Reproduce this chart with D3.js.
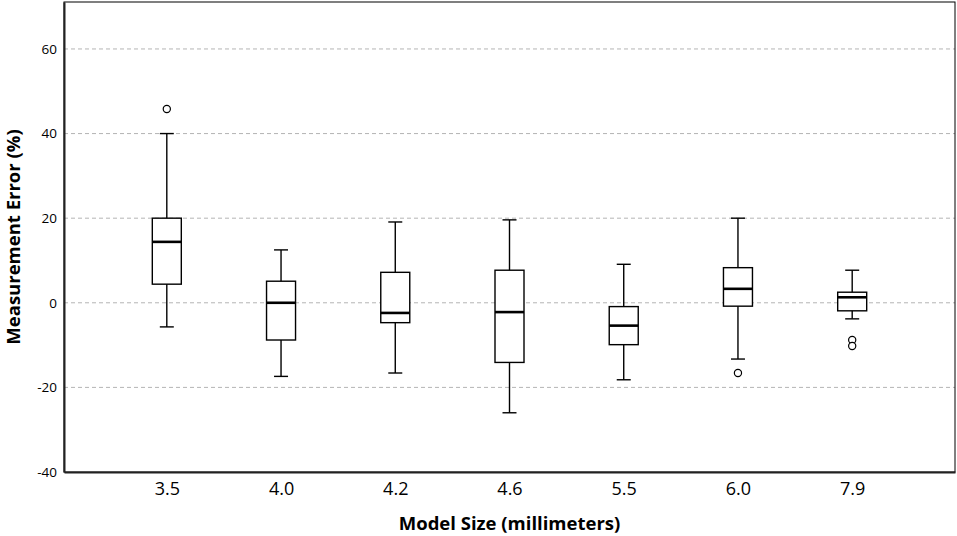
<!DOCTYPE html>
<html>
<head>
<meta charset="utf-8">
<script src="https://cdn.jsdelivr.net/npm/d3@7"></script>
<style>
    body { margin: 0; background: #fff; }
    svg { display: block; font-family: "Open Sans", "DejaVu Sans", sans-serif; }
</style>
</head>
<body>
<svg id="chart" width="957" height="536"></svg>
<script>
// model sizes (mm)
const categories = ['3.5', '4.0', '4.2', '4.6', '5.5', '6.0', '7.9'];

// box statistics (%)
const whiskerLow = [-5.7, -17.4, -16.6, -26.0, -18.2, -13.3, -3.8];
const q1 = [4.4, -8.8, -4.7, -14.1, -9.9, -0.8, -1.9];
const median = [14.4, 0.0, -2.4, -2.2, -5.4, 3.3, 1.3];
const q3 = [20.0, 5.1, 7.2, 7.7, -0.9, 8.3, 2.5];
const whiskerHigh = [40.0, 12.5, 19.1, 19.6, 9.1, 20.0, 7.7];
const outliers = [[45.8], [], [], [], [], [-16.6], [-8.8, -10.2]];

const yTicks = [-40, -20, 0, 20, 40, 60];
const gridTicks = [-20, 0, 20, 40, 60];

const margin = {top: 2, right: 2, bottom: 64, left: 64};
const width = 957, height = 536;

const svg = d3.select('#chart');

const x = d3.scalePoint()
    .domain(categories)
    .range([margin.left, width - margin.right])
    .padding(0.9);

const y = d3.scaleLinear()
    .domain([-40, 71.1])
    .range([height - margin.bottom, margin.top]);

const boxW = 29,
    capW = 14;

// grid
svg.append('g')
    .selectAll('line')
    .data(gridTicks)
    .join('line')
    .attr('x1', margin.left)
    .attr('x2', width - margin.right)
    .attr('y1', d => y(d))
    .attr('y2', d => y(d))
    .attr('stroke', '#b4b4b4')
    .attr('stroke-width', 1)
    .attr('stroke-dasharray', '4,3');

// frame
svg.append('rect')
    .attr('x', margin.left)
    .attr('y', margin.top)
    .attr('width', width - margin.right - margin.left)
    .attr('height', height - margin.bottom - margin.top)
    .attr('fill', 'none')
    .attr('stroke', '#000')
    .attr('stroke-width', 1);

// axes
const yAxis = svg.append('g')
    .attr('transform', `translate(${margin.left},0)`)
    .call(d3.axisLeft(y).tickValues(yTicks).tickFormat(d => String(d)).tickSize(0).tickPadding(7));
yAxis.select('.domain').attr('stroke', '#222').attr('stroke-width', 2);
yAxis.selectAll('text').attr('font-size', 13.5).attr('fill', '#000')
    .attr('font-family', '"Open Sans", sans-serif');

const xAxis = svg.append('g')
    .attr('transform', `translate(0,${height - margin.bottom})`)
    .call(d3.axisBottom(x).tickSize(0).tickPadding(10));
xAxis.select('.domain').attr('stroke', '#222').attr('stroke-width', 2);
xAxis.selectAll('text').attr('font-size', 18).attr('fill', '#000')
    .attr('font-family', '"Open Sans", sans-serif');

// boxes
const boxes = svg.append('g')
    .selectAll('g')
    .data(categories)
    .join('g')
    .attr('transform', d => `translate(${x(d)},0)`);

boxes.append('line')
    .attr('y1', (d, i) => y(whiskerLow[i]))
    .attr('y2', (d, i) => y(whiskerHigh[i]))
    .attr('stroke', '#000')
    .attr('stroke-width', 1.4);

boxes.each(function (d, i) {
    const g = d3.select(this);
    [whiskerLow[i], whiskerHigh[i]].forEach(v => {
        g.append('line')
            .attr('x1', -capW / 2)
            .attr('x2', capW / 2)
            .attr('y1', y(v))
            .attr('y2', y(v))
            .attr('stroke', '#000')
            .attr('stroke-width', 1.4);
    });
    g.selectAll('circle')
        .data(outliers[i])
        .join('circle')
        .attr('cx', 0)
        .attr('cy', v => y(v))
        .attr('r', 3.6)
        .attr('fill', '#fff')
        .attr('stroke', '#000')
        .attr('stroke-width', 1.2);
});

boxes.append('rect')
    .attr('x', -boxW / 2)
    .attr('width', boxW)
    .attr('y', (d, i) => y(q3[i]))
    .attr('height', (d, i) => y(q1[i]) - y(q3[i]))
    .attr('fill', '#fff')
    .attr('stroke', '#000')
    .attr('stroke-width', 1.4);

boxes.append('line')
    .attr('x1', -boxW / 2)
    .attr('x2', boxW / 2)
    .attr('y1', (d, i) => y(median[i]))
    .attr('y2', (d, i) => y(median[i]))
    .attr('stroke', '#000')
    .attr('stroke-width', 2.6);

// titles
svg.append('text')
    .attr('x', (margin.left + width - margin.right) / 2)
    .attr('y', 530)
    .attr('text-anchor', 'middle')
    .attr('font-size', 18.5)
    .attr('font-weight', 'bold')
    .text('Model Size (millimeters)');

svg.append('text')
    .attr('transform', `translate(20,${(margin.top + height - margin.bottom) / 2}) rotate(-90)`)
    .attr('text-anchor', 'middle')
    .attr('font-size', 18.5)
    .attr('font-weight', 'bold')
    .text('Measurement Error (%)');
</script>
</body>
</html>
